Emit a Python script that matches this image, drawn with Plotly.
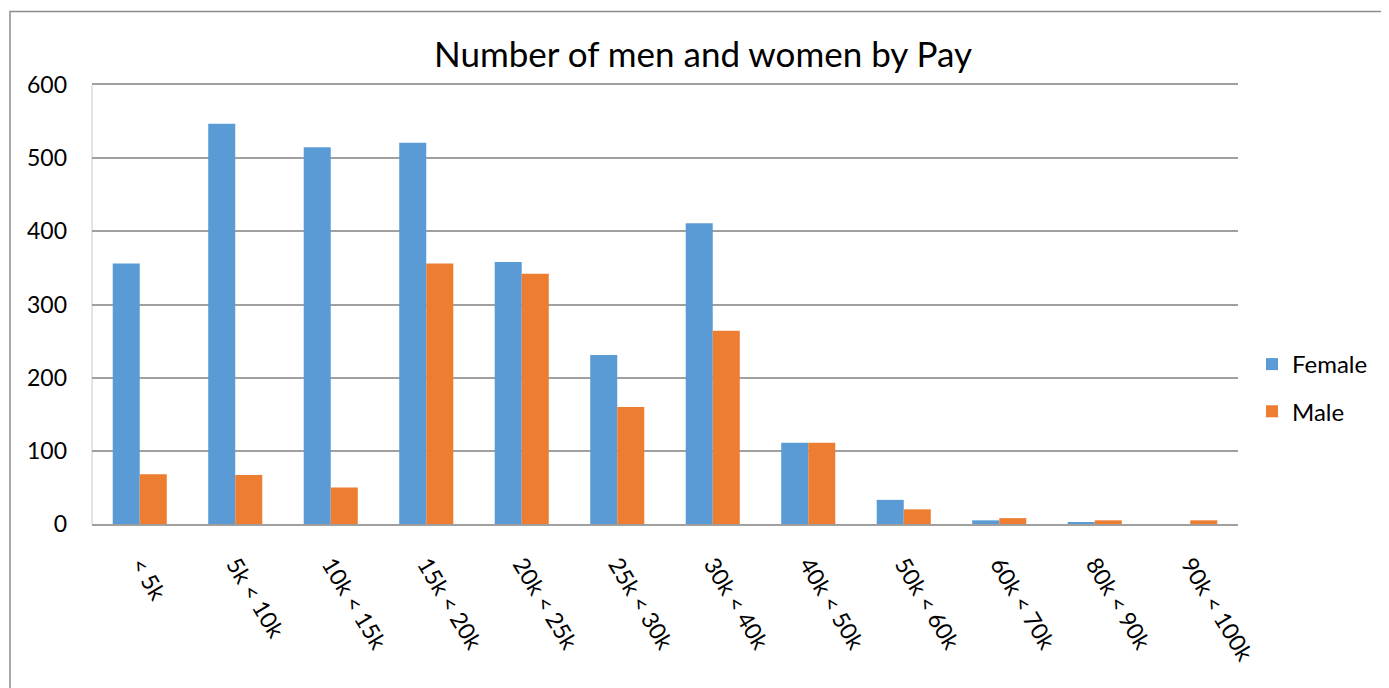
import plotly.graph_objects as go

# pay bands and head counts
pay_bands = ["< 5k", "5k < 10k", "10k < 15k", "15k < 20k", "20k < 25k", "25k < 30k",
             "30k < 40k", "40k < 50k", "50k < 60k", "60k < 70k", "80k < 90k", "90k < 100k"]
female = [356, 547, 515, 521, 358, 231, 411, 111, 33, 5, 2, 0]
male = [68, 67, 50, 356, 342, 160, 264, 111, 20, 8, 5, 5]

y_ticks = [0, 100, 200, 300, 400, 500, 600]

# the page body has an 8px margin, so everything is laid out 8px up/left
OFF = 8
W, H = 1389 - OFF, 688 - OFF
L, R, T, B = 92 - OFF, 1238 - OFF, 85 - OFF, 524 - OFF
FONT = "Lato"

fig = go.Figure()
fig.add_trace(go.Bar(x=pay_bands, y=female, name="Female", marker_color="#5B9BD5",
                     marker_line_width=0, legendgroup="f"))
fig.add_trace(go.Bar(x=pay_bands, y=male, name="Male", marker_color="#ED7D31",
                     marker_line_width=0, legendgroup="m"))

pw = R - L
ph = B - T
# outer chart border (runs past the right and bottom edges of the screenshot)
fig.add_shape(type="rect", xref="paper", yref="paper",
              x0=(10 - OFF - L) / pw, x1=(1420 - L) / pw,
              y0=(B - 720) / ph, y1=1 + (T - (11.5 - OFF)) / ph,
              line=dict(color="#8c8c8c", width=1.5), fillcolor="rgba(0,0,0,0)")
# thin left edge of the plot area
fig.add_shape(type="line", xref="paper", yref="paper", x0=0, x1=0, y0=0, y1=1,
              line=dict(color="#c8c8c8", width=1), layer="below")

fig.update_xaxes(
    type="category", showgrid=False, zeroline=False,
    showline=True, mirror=True, linecolor="#a0a0a0", linewidth=2,
    tickangle=59, tickfont=dict(family=FONT, size=23, color="#000000"),
    ticks="", ticklabelstandoff=16, fixedrange=True,
)
fig.update_yaxes(
    range=[0, 600], tickmode="array", tickvals=y_ticks,
    showgrid=True, gridcolor="#a0a0a0", gridwidth=2, zeroline=False,
    showline=False, tickfont=dict(family=FONT, size=23, color="#000000"),
    ticks="", ticklabelstandoff=24, fixedrange=True,
)
fig.update_layout(
    width=W, height=H,
    margin=dict(l=L, r=W - R, t=T, b=H - B, autoexpand=False),
    plot_bgcolor="#ffffff", paper_bgcolor="#ffffff",
    barmode="group", bargap=0.434, bargroupgap=0,
    title=dict(text="Number of men and women by Pay", x=(703 - OFF - L) / pw, xref="paper",
               xanchor="center", y=1 - (55 - OFF) / H, yref="container", yanchor="middle",
               font=dict(family=FONT, size=35, color="#000000")),
    legend=dict(x=(1252 - OFF - L) / pw, y=(B - (342 - OFF)) / ph, xanchor="left", yanchor="top",
                font=dict(family=FONT, size=24, color="#000000"),
                tracegroupgap=13, bgcolor="rgba(0,0,0,0)"),
    font=dict(family=FONT),
)

fig.write_html("out.html")
